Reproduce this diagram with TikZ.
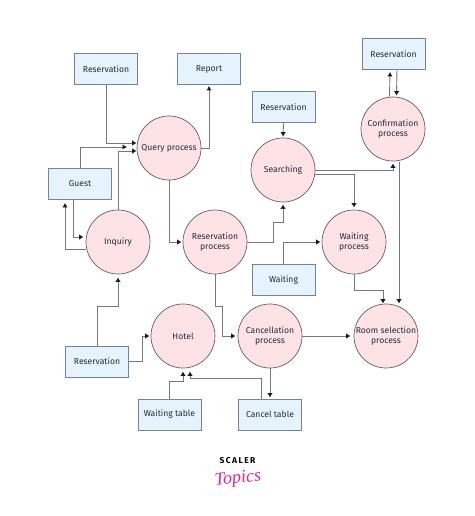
\documentclass[tikz,border=0pt]{standalone}
\usepackage{fontspec}
\setmainfont{Fira Sans}
\newfontfamily\topicsfont{Liberation Serif}
\usetikzlibrary{arrows.meta}
\definecolor{boxfill}{HTML}{E6F3FC}
\definecolor{boxline}{HTML}{6E8796}
\definecolor{circfill}{HTML}{FDE3E6}
\definecolor{circline}{HTML}{6A5C62}
\definecolor{wire}{HTML}{77777B}
\definecolor{tipcol}{HTML}{171C2B}
\definecolor{labelcol}{HTML}{232A36}
\definecolor{pinkish}{HTML}{E0267F}
\tikzset{
  every node/.style={font=\fontsize{8.6}{10.5}\selectfont, text=labelcol, align=center},
  dbox/.style={draw=boxline, fill=boxfill, line width=0.9pt, minimum width=63pt, minimum height=31pt, inner sep=0pt},
  proc/.style={draw=circline, fill=circfill, line width=0.7pt, circle, minimum size=64pt, inner sep=0pt},
  conn/.style={draw=wire, line width=0.9pt, -{Latex[length=4.5pt,width=5.5pt,color=tipcol]}},
}
\begin{document}
\begin{tikzpicture}[x=1pt,y=-1pt]
\useasboundingbox (0,0) rectangle (474,516);
% stores
\node[dbox] (resA) at (106,69) {Reservation};
\node[dbox] (report) at (209,69) {Report};
\node[dbox] (guest) at (80,184) {Guest};
\node[dbox] (resS) at (283.5,107) {Reservation};
\node[dbox] (resC) at (393.5,54) {Reservation};
\node[dbox] (waiting) at (283.5,280) {Waiting};
\node[dbox] (resB) at (97,361.5) {Reservation};
\node[dbox] (wtable) at (169.5,414.5) {Waiting table};
\node[dbox] (ctable) at (270,414.5) {Cancel table};
% processes
\node[proc] (query) at (169,148) {Query process};
\node[proc] (inquiry) at (118,242) {Inquiry};
\node[proc] (resproc) at (215,242) {Reservation\\process};
\node[proc] (search) at (283,170) {Searching};
\node[proc] (confirm) at (393,129) {Confirmation\\process};
\node[proc] (waitproc) at (354,242) {Waiting\\process};
\node[proc] (hotel) at (183,336) {Hotel};
\node[proc] (cancel) at (270,336) {Cancellation\\process};
\node[proc] (room) at (386,336) {Room selection\\process};
% connectors
\draw[conn] (resA.south) -- (106,143) -- ([yshift=5pt]query.west);
\draw[conn] (guest.north) -- (80,147) -- (127,147);
\draw[conn] (inquiry.north) -- (118,151) -- ([yshift=-3pt]query.west);
\draw[conn] (query.east) -- (report.south |- query.east) -- ([yshift=-1pt]report.south);
\draw[conn] (query.south) |- ([xshift=-1pt]resproc.west);
\draw[conn] ([xshift=-7pt]guest.south) |- ([xshift=-2pt,yshift=5pt]inquiry.west);
\draw[conn] ([yshift=-7pt]inquiry.west) -| ([xshift=-15pt,yshift=-3pt]guest.south);
\draw[conn] (resB.north) -- (97,306) -- (118,306) -- ([yshift=-3pt]inquiry.south);
\draw[conn] (resB.east) -- (142,361.5) -- (142,336) -- ([xshift=-1pt]hotel.west);
\draw[conn] (wtable.north) -- (169.5,381) -- (183,381) -- ([yshift=-3pt]hotel.south);
\draw[conn] ([xshift=-9pt]ctable.north) -- (261,378) -- (190,378) -- ([xshift=7pt,yshift=-3pt]hotel.south);
\draw[conn] (cancel.south) -- ([yshift=1pt]ctable.north);
\draw[conn] (cancel.east) -- ([xshift=-3pt]room.west);
\draw[conn] (resproc.south) -- (215,306) -- (222,306) -- (222,336) -- ([xshift=-2pt]cancel.west);
\draw[conn] (resproc.east) -- (273,242) -- (273,222) -- (283,222) -- ([yshift=-2pt]search.south);
\draw[conn] (resS.south) -- ([yshift=1pt]search.north);
\draw[conn] (search.east) -| ([yshift=-2pt]confirm.south);
\draw[conn] ([yshift=-4pt]search.east) -| ([yshift=2pt]waitproc.north);
\draw[conn] (waiting.north) |- ([xshift=-1pt]waitproc.west);
\draw[conn] (waitproc.south) -- (354,290) -- (383,290) -- ([xshift=-3pt,yshift=0pt]room.north);
\draw[conn] ([xshift=6pt,yshift=-1pt]confirm.south) -- ([xshift=13pt,yshift=0pt]room.north);
\draw[conn] ([xshift=-3.5pt]confirm.north) -- ([xshift=-3.5pt,yshift=-2pt]resC.south);
\draw[conn] ([xshift=3.5pt]resC.south) -- ([xshift=3.5pt,yshift=1pt]confirm.north);
% logo
\node[font=\fontsize{8.5}{9}\bfseries\selectfont, text=black, inner sep=0pt] (scaler) at (237.5,461) {S\,C\,A\,L\,E\,R};
\node[font=\topicsfont\itshape\fontsize{18}{19}\selectfont, text=pinkish, rotate=6, inner sep=0pt] (topics) at (238,479) {Topics};
\end{tikzpicture}
\end{document}
